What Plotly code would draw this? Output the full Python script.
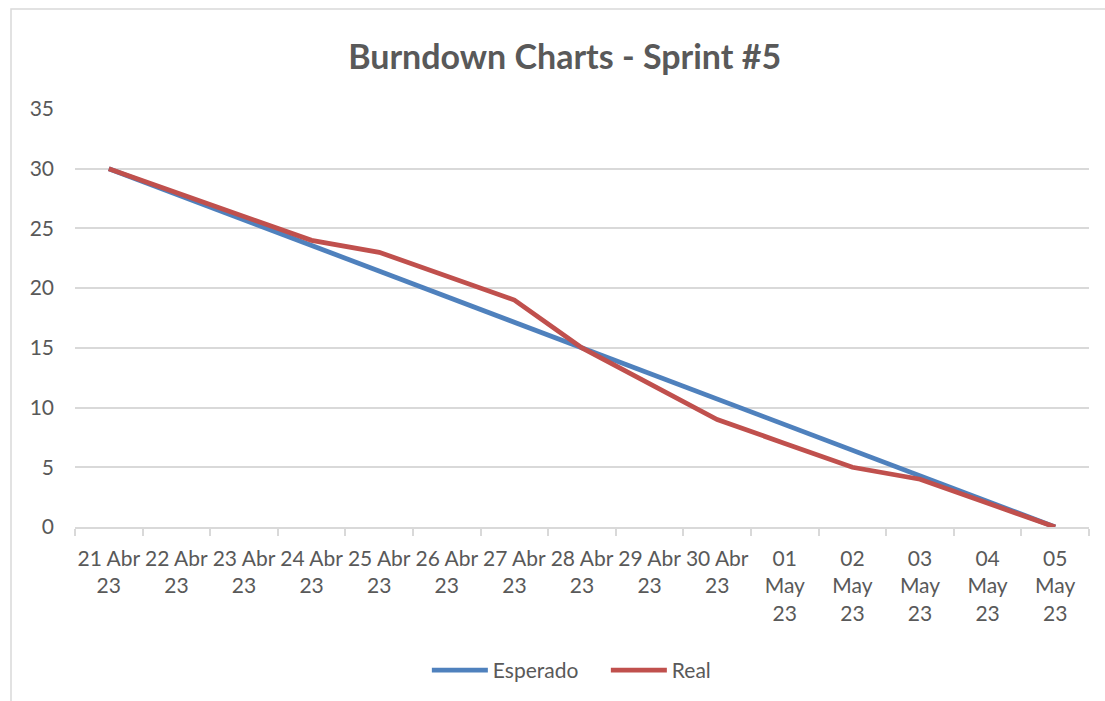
import plotly.graph_objects as go

categories = ["21 Abr<br>23", "22 Abr<br>23", "23 Abr<br>23", "24 Abr<br>23", "25 Abr<br>23",
              "26 Abr<br>23", "27 Abr<br>23", "28 Abr<br>23", "29 Abr<br>23", "30 Abr<br>23",
              "01<br>May<br>23", "02<br>May<br>23", "03<br>May<br>23", "04<br>May<br>23", "05<br>May<br>23"]
esperado = [30, 27.86, 25.71, 23.57, 21.43, 19.29, 17.14, 15, 12.86, 10.71, 8.57, 6.43, 4.29, 2.14, 0]
real = [30, 28, 26, 24, 23, 21, 19, 15, 12, 9, 7, 5, 4, 2, 0]
y_ticks = [0, 5, 10, 15, 20, 25, 30, 35]

FONT = "Lato"
GRAY = "#595959"
GRID = "#d9d9d9"

fig = go.Figure()
fig.add_trace(go.Scatter(x=categories, y=esperado, name="Esperado", mode="lines",
                         line=dict(color="#4f81bd", width=4.8)))
fig.add_trace(go.Scatter(x=categories, y=real, name="Real", mode="lines",
                         line=dict(color="#c0504d", width=4.8)))

fig.update_layout(
    width=1105, height=701,
    margin=dict(l=75, r=16, t=109, b=173),
    paper_bgcolor="white", plot_bgcolor="white",
    font=dict(family=FONT, color=GRAY, size=20),
    title=dict(text="<b>Burndown Charts - Sprint #5</b>", x=0.511, xref="container",
               y=1 - 57 / 701, yref="container", xanchor="center", yanchor="middle",
               font=dict(family=FONT, size=34, color=GRAY)),
    showlegend=True,
    legend=dict(orientation="h", x=0.347, xanchor="left", y=-0.34, yanchor="middle",
                font=dict(family=FONT, size=21, color=GRAY), itemwidth=56,
                entrywidth=108, bgcolor="rgba(0,0,0,0)"),
    xaxis=dict(type="category", range=[-0.5, 14.5], showgrid=False, showline=True,
               linecolor=GRID, linewidth=1.5,
               ticks="outside", tickson="boundaries", tickcolor=GRID, ticklen=7, tickwidth=1.5,
               tickangle=0, tickfont=dict(family=FONT, size=21, color=GRAY),
               ticklabelstandoff=12, fixedrange=True),
    yaxis=dict(range=[0, 35], tickvals=y_ticks, showgrid=True, gridcolor=GRID, gridwidth=1.5,
               zeroline=False, showline=False, ticks="",
               tickfont=dict(family=FONT, size=21, color=GRAY), ticklabelstandoff=20,
               fixedrange=True),
    shapes=[dict(type="rect", xref="paper", yref="paper",
                 x0=(11 - 75) / 1014, x1=(1115 - 75) / 1014,
                 y0=(528 - 715) / 418, y1=(528 - 10) / 418,
                 line=dict(color=GRID, width=1.5), fillcolor="rgba(0,0,0,0)", layer="below")],
)

fig.write_html("out.html", config={"displayModeBar": False},
               post_script="document.body.style.margin='0';")
